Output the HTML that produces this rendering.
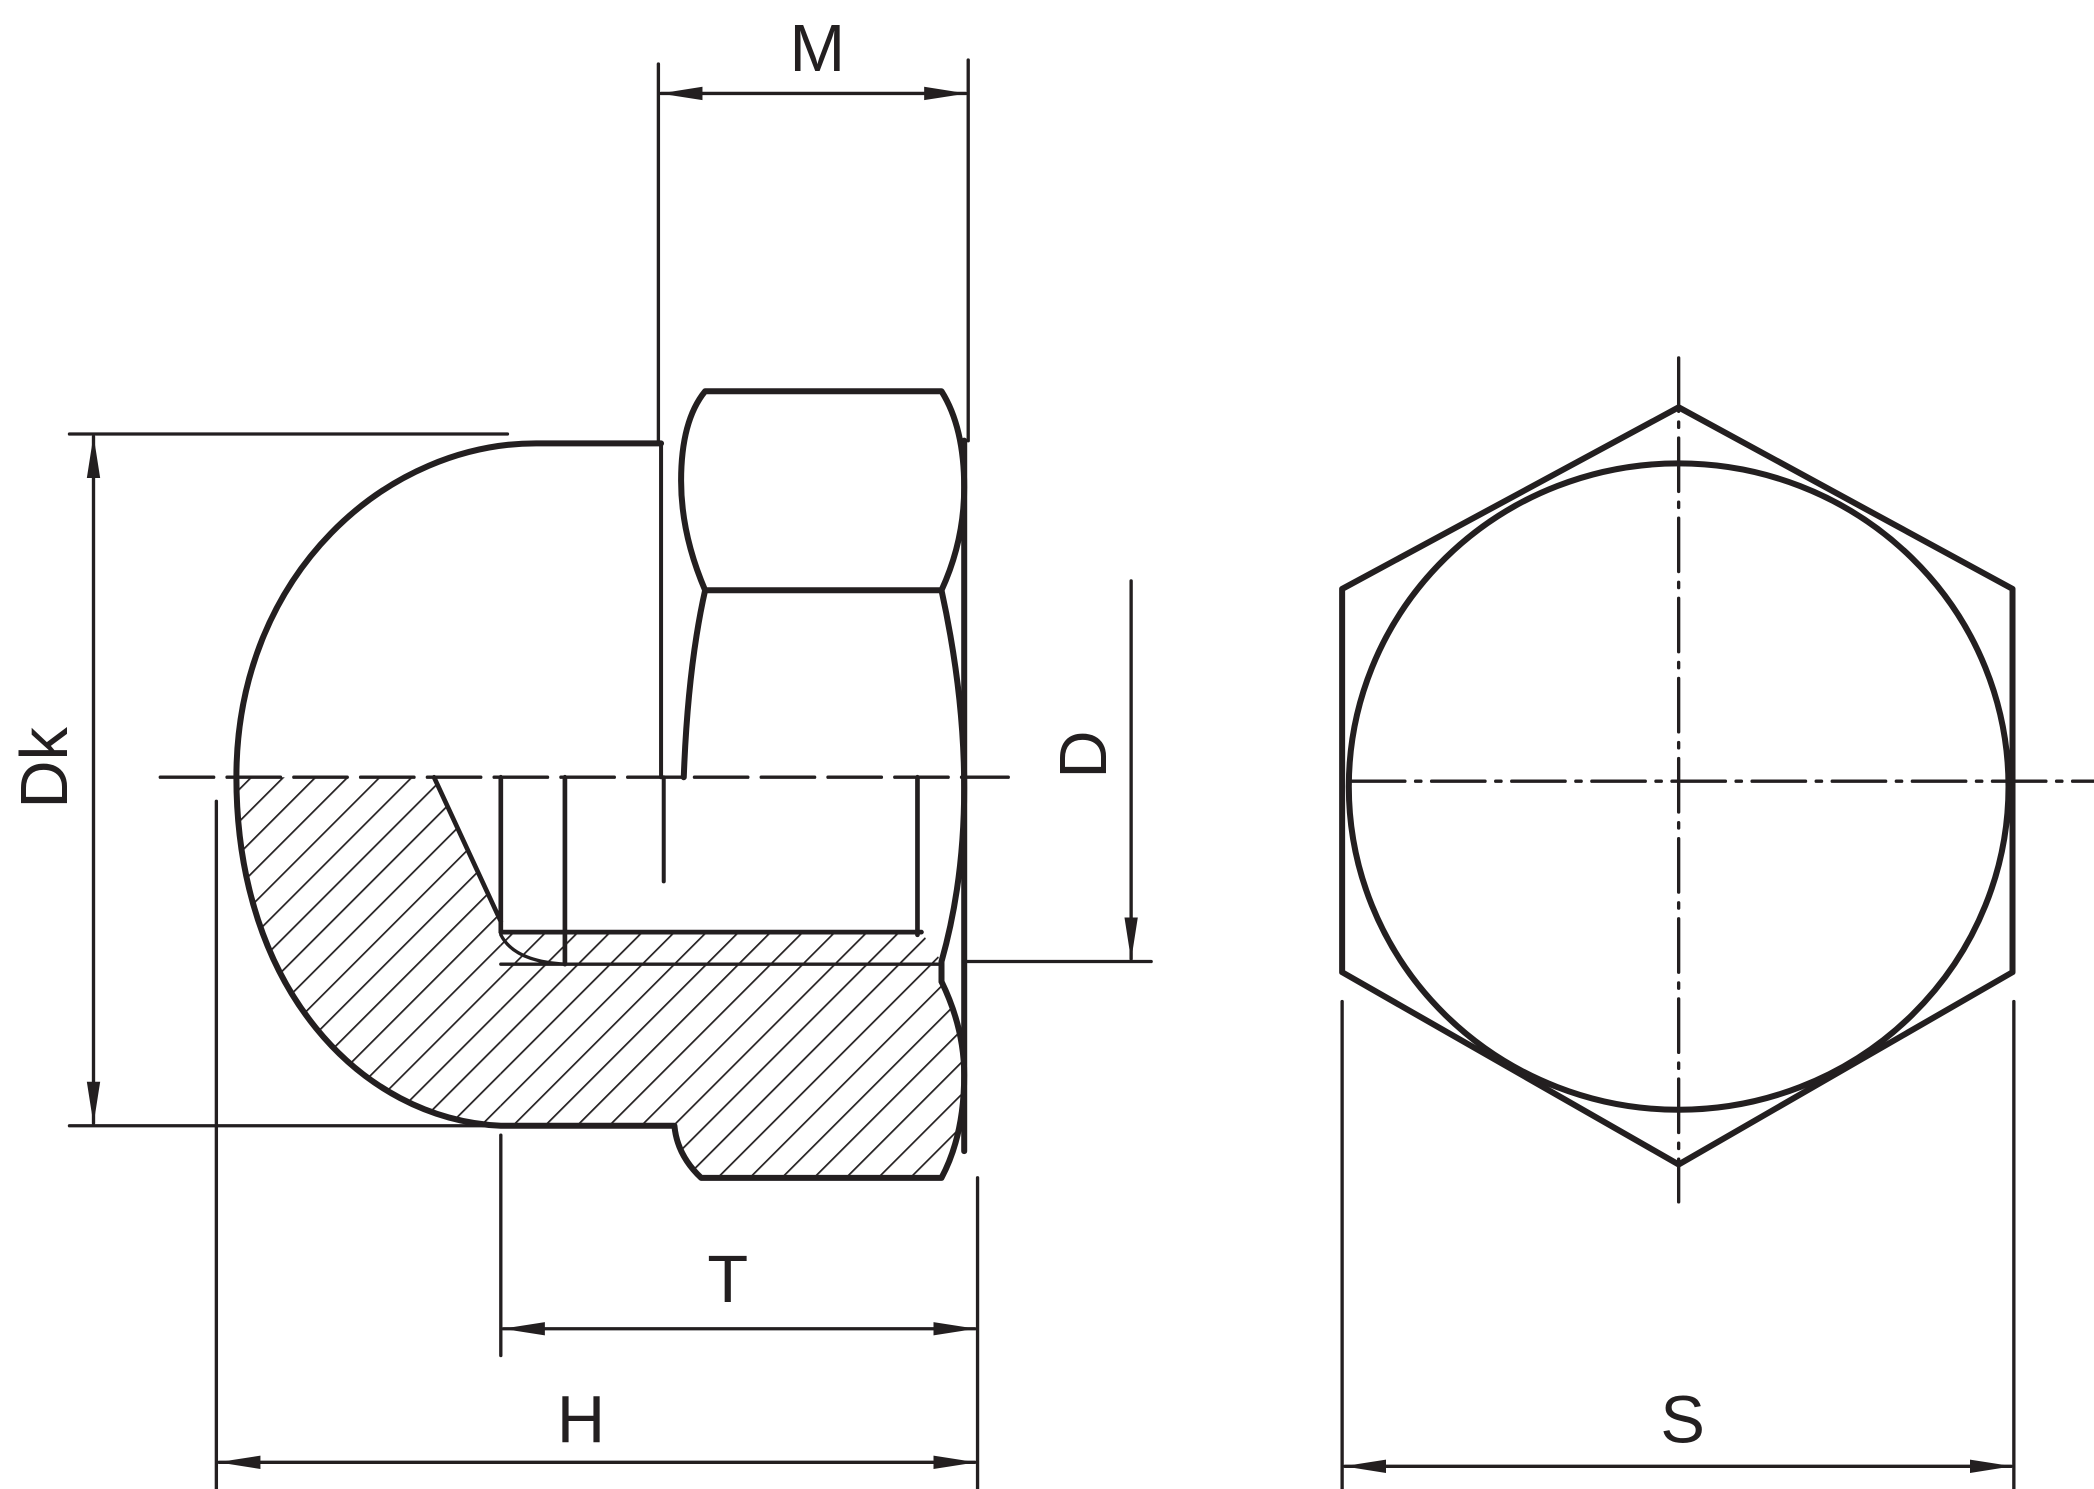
<!DOCTYPE html>
<html><head><meta charset="utf-8"><style>
html,body{margin:0;padding:0;background:#fff;}
svg{display:block;}
text{font-family:"Liberation Sans",sans-serif;fill:#231f20;}
</style></head><body>
<svg width="2094" height="1489" viewBox="0 0 1568 1115" xmlns="http://www.w3.org/2000/svg">
<defs>
<pattern id="h" patternUnits="userSpaceOnUse" width="17" height="17" patternTransform="rotate(45)">
<line x1="0" y1="0" x2="0" y2="17" stroke="#231f20" stroke-width="2.6"/>
</pattern>
<marker id="a" markerWidth="32" markerHeight="12" refX="31" refY="6" orient="auto-start-reverse" markerUnits="userSpaceOnUse">
<path d="M0,1 L32,6 L0,11 Z" fill="#231f20"/>
</marker>
</defs>
<g fill="none" stroke="#231f20" stroke-linejoin="round" stroke-linecap="round">
<path d="M177,582 L325,582 L375,690 L375,843 C270,838 177,740 177,582 Z" fill="url(#h)" stroke="none"/>
<path d="M375,698 L690,698 L705,720 L705,735 Q722,770 722,805 Q722,850 705,882 L525,882 Q507,865 505,843 L375,843 Z" fill="url(#h)" stroke="none"/>
<path d="M495,332 L405,332 C290,330 177,430 177,582 C177,740 270,838 375,843 L505,843 Q507,865 525,882 L705,882 Q722,850 722,805 Q722,770 705,735" stroke-width="4.5"/>
<path d="M528,293 L705,293 Q722,320 722,365 Q722,405 705,442 L528,442 Q510,400 510,360 Q510,315 528,293 Z" stroke-width="4.5"/>
<path d="M528,442 Q515,500 512,582" stroke-width="4.5"/>
<path d="M705,442 Q722,520 722,590 Q722,660 705,720 L705,735" stroke-width="4.5"/>
<line x1="722" y1="330" x2="722" y2="862" stroke-width="4.5"/>
<path d="M325,582 L375,690" stroke-width="3.5"/>
<line x1="375" y1="582" x2="375" y2="698" stroke-width="3.5"/>
<line x1="423" y1="582" x2="423" y2="722" stroke-width="3.5"/>
<line x1="687" y1="582" x2="687" y2="700" stroke-width="3.5"/>
<line x1="375" y1="698" x2="690" y2="698" stroke-width="3.5"/>
<line x1="375" y1="722" x2="705" y2="722" stroke-width="2.5"/>
<path d="M375,700 Q385,720 423,722" stroke-width="2.5"/>
<line x1="495" y1="332" x2="495" y2="582" stroke-width="3"/>
<line x1="497" y1="582" x2="497" y2="660" stroke-width="3"/>
<line x1="120" y1="582" x2="755" y2="582" stroke-width="2.5" stroke-dasharray="40,10"/>
<polygon points="1257,305 1507,441 1507,728 1257,872 1005,728 1005,441" stroke-width="4.5"/>
<ellipse cx="1257" cy="589" rx="247" ry="242" stroke-width="4.5"/>
<line x1="1012" y1="585" x2="1568" y2="585" stroke-width="2.5" stroke-dasharray="40,8,4,8"/>
<line x1="1257" y1="268" x2="1257" y2="900" stroke-width="2.5" stroke-dasharray="40,8,4,8"/>
<g stroke-width="2.5">
<line x1="493" y1="48" x2="493" y2="332"/>
<line x1="725" y1="45" x2="725" y2="330"/>
<line x1="495" y1="70" x2="723" y2="70" marker-start="url(#a)" marker-end="url(#a)"/>
<line x1="52" y1="325" x2="380" y2="325"/>
<line x1="52" y1="843" x2="370" y2="843"/>
<line x1="70" y1="327" x2="70" y2="841" marker-start="url(#a)" marker-end="url(#a)"/>
<line x1="847" y1="435" x2="847" y2="718" marker-end="url(#a)"/>
<line x1="722" y1="720" x2="862" y2="720"/>
<line x1="375" y1="850" x2="375" y2="1015"/>
<line x1="732" y1="882" x2="732" y2="1115"/>
<line x1="377" y1="995" x2="730" y2="995" marker-start="url(#a)" marker-end="url(#a)"/>
<line x1="162" y1="600" x2="162" y2="1115"/>
<line x1="164" y1="1095" x2="730" y2="1095" marker-start="url(#a)" marker-end="url(#a)"/>
<line x1="1005" y1="750" x2="1005" y2="1115"/>
<line x1="1508" y1="750" x2="1508" y2="1115"/>
<line x1="1007" y1="1098" x2="1506" y2="1098" marker-start="url(#a)" marker-end="url(#a)"/>
</g>
</g>
<text x="612" y="53" font-size="50" text-anchor="middle">M</text>
<text x="545" y="975" font-size="50" text-anchor="middle">T</text>
<text x="435" y="1080" font-size="50" text-anchor="middle">H</text>
<text x="1260" y="1080" font-size="50" text-anchor="middle">S</text>
<text x="0" y="0" font-size="50" text-anchor="middle" transform="translate(50,575) rotate(-90)">Dk</text>
<text x="0" y="0" font-size="50" text-anchor="middle" transform="translate(828,565) rotate(-90)">D</text>
</svg>
</body></html>
